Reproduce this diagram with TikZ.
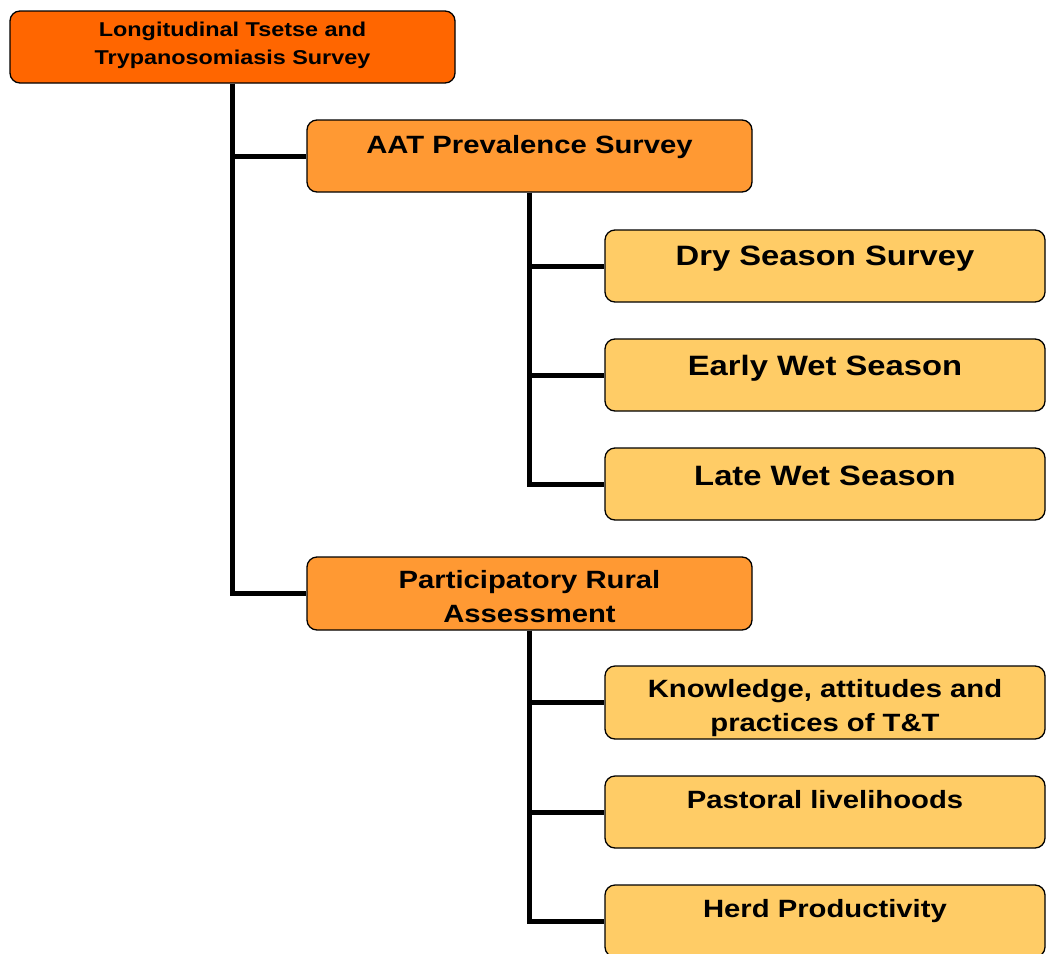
\documentclass[tikz,border=0pt]{standalone}
\usepackage{fontspec}
\setmainfont[FakeStretch=1.17]{Liberation Sans}
\begin{document}
\begin{tikzpicture}[x=1pt,y=-1pt,
  box/.style={draw=black,line width=1.3pt,rounded corners=10pt,inner sep=0pt,minimum width=445pt,minimum height=72pt},
  lvlA/.style={box,fill=rootc},
  lvlB/.style={box,fill=midc},
  lvlC/.style={box,fill=leafc,minimum width=440pt},
  conn/.style={line width=5pt,draw=black},
  txtS/.style={inner sep=0pt,align=center,font=\bfseries\fontsize{20pt}{28pt}\selectfont},
  txtM/.style={inner sep=0pt,align=center,font=\bfseries\fontsize{25pt}{34pt}\selectfont},
  txtL/.style={inner sep=0pt,align=center,font=\bfseries\fontsize{28pt}{38pt}\selectfont}]
\definecolor{rootc}{HTML}{FF6600}
\definecolor{midc}{HTML}{FF9933}
\definecolor{leafc}{HTML}{FFCC66}
\useasboundingbox (0,0) rectangle (1046,953);
\clip (0,0) rectangle (1046,953);
% boxes
\node[lvlA] (root) at (232.5,47) {};
\node[lvlB] (aat) at (529.5,156) {};
\node[lvlB,minimum height=73pt] (pra) at (529.5,593.5) {};
\node[lvlC] (dry) at (825,266) {};
\node[lvlC] (early) at (825,375) {};
\node[lvlC] (late) at (825,484) {};
\node[lvlC,minimum height=73pt] (kap) at (825,702.5) {};
\node[lvlC] (past) at (825,812) {};
\node[lvlC] (herd) at (825,921) {};
% connectors
\draw[conn] (root.south) |- (aat.west);
\draw[conn] (root.south) |- (pra.west);
\draw[conn] (aat.south) |- (dry.west);
\draw[conn] (aat.south) |- (early.west);
\draw[conn] (aat.south) |- (late.west);
\draw[conn] (pra.south) |- (kap.west);
\draw[conn] (pra.south) |- (past.west);
\draw[conn] (pra.south) |- (herd.west);
% texts
\node[txtS,anchor=north] (rootT) at (232.5,22.3) {Longitudinal Tsetse and\\Trypanosomiasis Survey};
\node[txtM,anchor=base] (aatT) at (529.5,153) {AAT Prevalence Survey};
\node[txtL,anchor=base] (dryT) at (825,265) {Dry Season Survey};
\node[txtL,anchor=base] (earlyT) at (825,375) {Early Wet Season};
\node[txtL,anchor=base] (lateT) at (825,485) {Late Wet Season};
\node[txtM,anchor=north] (praT) at (529.5,570.3) {Participatory Rural\\Assessment};
\node[txtM,anchor=north] (kapT) at (825,678.7) {Knowledge, attitudes and\\practices of T\&T};
\node[txtM,anchor=base] (pastT) at (825,808) {Pastoral livelihoods};
\node[txtM,anchor=base] (herdT) at (825,917) {Herd Productivity};
\end{tikzpicture}
\end{document}
